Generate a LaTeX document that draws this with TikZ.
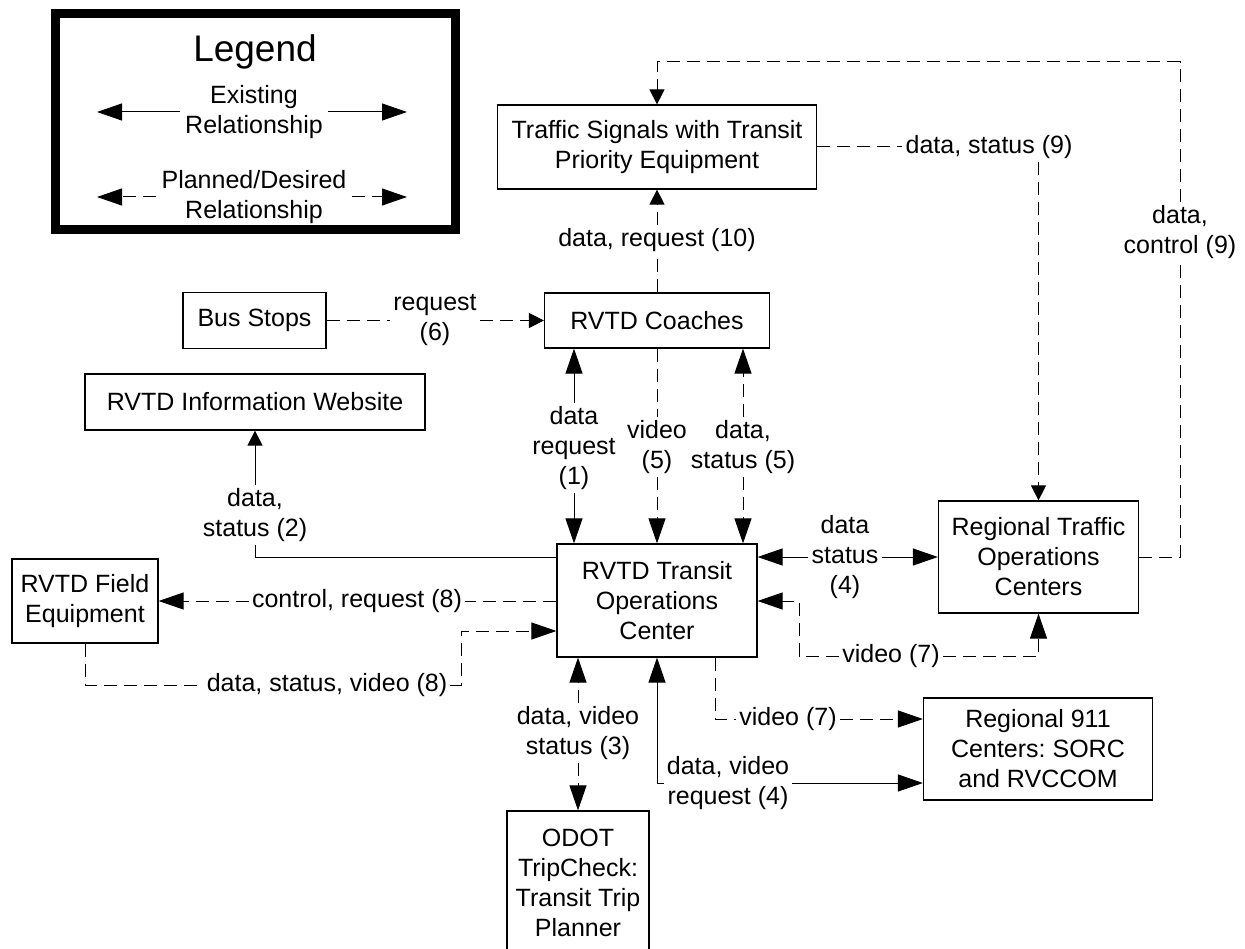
\documentclass[tikz,border=0pt]{standalone}
\usepackage{fontspec}
\setmainfont{Liberation Sans}
\usetikzlibrary{arrows.meta,positioning,calc}
\frenchspacing

\begin{document}
\begin{tikzpicture}[
  x=1pt,y=-1pt,
  font=\fontsize{25}{30}\selectfont,
  Lng/.tip={Triangle[length=25pt,width=17pt]},
  Sht/.tip={Triangle[length=15pt,width=15pt]},
  box/.style={draw, line width=1.2pt, align=center, inner sep=2pt},
  lab/.style={align=center, inner sep=3pt},
  sflow/.style={line width=1pt},
  dflow/.style={line width=1pt, dash pattern=on 13pt off 7pt},
]
\useasboundingbox (0,0) rectangle (1245,949);

%% ---------- LEGEND ----------
\node[draw, line width=9pt, minimum width=400pt, minimum height=216pt, inner sep=0pt] (legend) at (255,122) {};
\node (lgd) at (255,52) {\fontsize{37}{44}\selectfont Legend};
\node[lab, inner sep=5pt] (lex) at (254,112) {Existing\\Relationship};
\node[lab, inner sep=5pt] (lpl) at (254,197) {Planned/Desired\\Relationship};
\coordinate (exL) at (97,112); \coordinate (exR) at (407,112);
\coordinate (plL) at (97,197); \coordinate (plR) at (407,197);
\draw[sflow,-Lng] (lex) -- (exL);
\draw[sflow,-Lng] (lex) -- (exR);
\draw[dflow,-Lng] (lpl) -- (plL);
\draw[dflow,-Lng] (lpl) -- (plR);

%% ---------- BOXES ----------
\node[box, minimum width=319pt, minimum height=84pt] (sig) at (657,147) {Traffic Signals with Transit\\Priority Equipment};
\node[box, minimum width=225pt, minimum height=55pt] (coach) at (657,320.5) {RVTD Coaches};
\node[box, minimum width=143pt, minimum height=56pt] (stops) at (254.5,320.5) {Bus Stops};
\node[box, minimum width=340pt, minimum height=56pt] (web) at (255,402) {RVTD Information Website};
\node[box, minimum width=146pt, minimum height=84pt] (field) at (85,601) {RVTD Field\\Equipment};
\node[box, minimum width=200pt, minimum height=113pt] (toc) at (657,600.5) {RVTD Transit\\Operations\\Center};
\node[box, minimum width=200pt, minimum height=112pt] (rtoc) at (1038.5,557) {Regional Traffic\\Operations\\Centers};
\node[box, minimum width=229pt, minimum height=102pt] (psap) at (1038,749) {Regional 911\\Centers: SORC\\and RVCCOM};
\node[box, minimum width=142pt, minimum height=144pt] (odot) at (578,883) {ODOT\\TripCheck:\\Transit Trip\\Planner};

%% ---------- LABELS ----------
\node[lab] (l10) at (657,240) {data, request (10)};
\node[lab] (l6)  at (435,320.5) {request\\(6)};
\node[lab] (l9s) at (989,147) {data, status (9)};
\node[lab] (l9c) at (1180,232) {data,\\control (9)};
\node[lab] (l1)  at (574,448) {data\\request\\(1)};
\node[lab] (l5v) at (657,447) {video\\(5)};
\node[lab] (l5d) at (743,447) {data,\\status (5)};
\node[lab] (l2)  at (255,515) {data,\\status (2)};
\node[lab] (l4)  at (845,557) {data\\status\\(4)};
\node[lab] (l8c) at (357,601) {control, request (8)};
\node[lab] (l8d) at (327,685) {data, status, video (8)};
\node[lab] (l7r) at (891,656) {video (7)};
\node[lab] (l7s) at (788,719) {video (7)};
\node[lab] (l3)  at (578,733) {data, video\\status (3)};
\node[lab] (l4b) at (728,783) {data, video\\request (4)};

%% ---------- CONNECTORS ----------
\coordinate (loopT) at (1180,62);
\draw[dflow] (rtoc.east) -| (l9c.south);
\draw[dflow,-Sht] (l9c.north) -- (loopT) -| (sig.north);
\draw[dflow] (sig.east) -- (l9s.west);
\draw[dflow,-Sht] (l9s.south -| rtoc.north) -- (rtoc.north);
\draw[dflow] (coach.north) -- (l10);
\draw[dflow,-Sht] (l10) -- (sig.south);
\draw[dflow] (stops.east) -- (l6);
\draw[dflow,-Sht] (l6) -- (coach.west);

\draw[sflow,-Lng] (l1) -- (l1 |- coach.south);
\draw[sflow,-Lng] (l1) -- (l1 |- toc.north);
\draw[dflow] (coach.south) -- (l5v);
\draw[dflow,-Lng] (l5v) -- (toc.north);
\draw[dflow,-Lng] (l5d) -- (l5d |- coach.south);
\draw[dflow,-Lng] (l5d) -- (l5d |- toc.north);

\draw[sflow,-Sht] (l2) -- (web.south);
\draw[sflow] (l2.south) |- (toc.west |- l4);
\draw[sflow,-Lng] (l4) -- (toc.east |- l4);
\draw[sflow,-Lng] (l4) -- (rtoc.west);

\draw[dflow,-Lng] (l8c) -- (field.east);
\draw[dflow] (toc.west |- l8c) -- (l8c);
\coordinate (c8) at (461,631);
\draw[dflow] (field.south) |- (l8d.west);
\draw[dflow,-Lng] (l8d.east) -| (c8) -- (c8 -| toc.west);

\coordinate (c7) at (799,601);
\draw[dflow,-Lng] (l7r.east) -| (rtoc.south);
\draw[dflow,-Lng] (l7r.west) -| (c7) -- (c7 -| toc.east);
\draw[dflow] ($(toc.south)+(58,0)$) |- (l7s.west);
\draw[dflow,-Lng] (l7s.east) -- (psap.west |- l7s.east);

\draw[sflow,-Lng] (l4b.west) -| (toc.south);
\draw[sflow,-Lng] (l4b.east) -- (psap.west |- l4b.east);
\draw[dflow,-Lng] (l3) -- (l3 |- toc.south);
\draw[dflow,-Lng] (l3) -- (odot.north);
\end{tikzpicture}
\end{document}
